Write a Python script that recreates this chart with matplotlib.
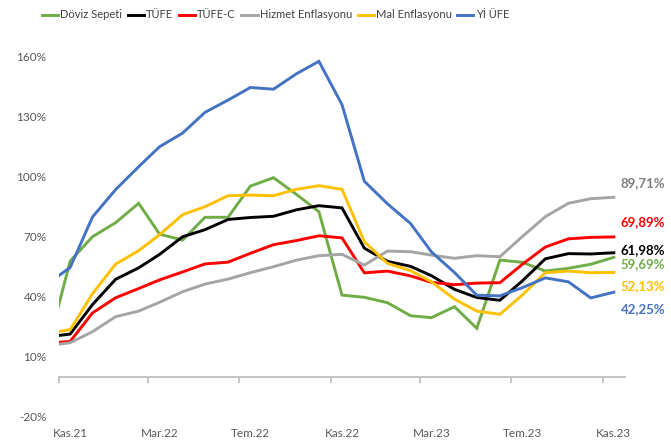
import matplotlib
matplotlib.use("Agg")
import matplotlib.pyplot as plt
import matplotlib.ticker as mticker
import pandas as pd

plt.rcParams['font.family'] = ['Lato', 'DejaVu Sans']

# monthly annual inflation, Oct 2021 - Nov 2023
dates = pd.date_range("2021-10-01", "2023-11-01", freq="MS") + pd.Timedelta(days=15)

doviz = [13.5, 57.8, 70.0, 77.0, 86.7, 71.3, 68.3, 79.7, 79.7, 95.3, 99.5, 91.1, 82.5,
         40.8, 39.7, 37.0, 30.5, 29.5, 35.0, 24.2, 58.3, 57.2, 52.8, 54.2, 56.2, 59.69]
tufe = [19.89, 21.31, 36.08, 48.69, 54.44, 61.14, 69.97, 73.50, 78.62, 79.60, 80.21, 83.45, 85.51,
        84.39, 64.27, 57.68, 55.18, 50.51, 43.68, 39.59, 38.21, 47.83, 58.94, 61.53, 61.36, 61.98]
tufe_c = [16.82, 17.63, 31.88, 39.45, 44.08, 48.39, 52.39, 56.38, 57.27, 61.69, 66.00, 68.09, 70.47,
          69.4, 51.93, 52.8, 50.4, 47.2, 46.0, 46.8, 47.0, 56.15, 64.83, 68.93, 69.66, 69.89]
hizmet = [15.4, 17.0, 22.5, 30.0, 32.8, 37.2, 42.5, 46.3, 48.8, 52.0, 55.0, 58.3, 60.5,
          61.2, 55.8, 62.8, 62.5, 60.8, 59.2, 60.5, 60.0, 70.0, 80.0, 86.7, 89.0, 89.71]
mal = [21.75, 23.5, 41.5, 56.3, 63.0, 71.0, 81.0, 85.0, 90.5, 90.8, 90.5, 93.7, 95.5,
       93.7, 67.5, 56.7, 53.0, 47.5, 38.8, 32.8, 31.2, 40.8, 52.0, 52.8, 52.0, 52.13]
yi_ufe = [46.31, 54.62, 79.89, 93.53, 105.01, 114.97, 121.82, 132.16, 138.31, 144.61, 143.75, 151.50, 157.69,
          136.02, 97.72, 86.46, 76.61, 62.43, 52.11, 40.76, 40.42, 44.50, 49.41, 47.44, 39.39, 42.25]

names = ["Döviz Sepeti", "TÜFE", "TÜFE-C", "Hizmet Enflasyonu", "Mal Enflasyonu", "Yİ ÜFE"]
series = [doviz, tufe, tufe_c, hizmet, mal, yi_ufe]
colors = ["#70AD47", "#000000", "#FF0000", "#A5A5A5", "#FFC000", "#4472C4"]
label_colors = ["#70AD47", "#000000", "#FF0000", "#7F7F7F", "#FFC000", "#4472C4"]
label_dy = [-7, 3, 15, 14, -14, -17]  # pixel offsets of end labels

month_names = ["Oca", "Şub", "Mar", "Nis", "May", "Haz", "Tem", "Ağu", "Eyl", "Eki", "Kas", "Ara"]

fig = plt.figure(figsize=(6.71, 4.41), dpi=100)
ax = fig.add_axes([59 / 671, 24.3 / 441, 566 / 671, 360 / 441])

for name, vals, c in zip(names, series, colors):
    ax.plot(dates, vals, color=c, lw=2.1, label=name, solid_joinstyle='miter')

for vals, c, dy in zip(series, label_colors, label_dy):
    txt = f"{vals[-1]:.2f}%".replace('.', ',')
    ax.annotate(txt, xy=(dates[-1], vals[-1]), xytext=(7, dy), textcoords='offset pixels',
                ha='left', va='center', color=c, fontsize=9.5, fontweight='bold',
                annotation_clip=False)

ax.set_xlim(pd.Timestamp("2021-11-01"), pd.Timestamp("2023-12-01"))
ax.set_ylim(-20, 160)
ax.set_yticks(range(-20, 161, 30))
ax.yaxis.set_major_formatter(mticker.FuncFormatter(lambda v, p: f"{v:.0f}%"))
ax.tick_params(axis='y', length=0, pad=9, labelsize=8.5, labelcolor="#595959")

for s in ["top", "right", "left"]:
    ax.spines[s].set_visible(False)
ax.spines["bottom"].set_position(("data", 0))
ax.spines["bottom"].set_color("#BFBFBF")
ax.spines["bottom"].set_linewidth(1.3)

tick_dates = pd.date_range("2021-11-01", "2023-11-01", freq="4MS")
ax.set_xticks(tick_dates)
ax.set_xticklabels([])
ax.tick_params(axis='x', length=4, width=1.3, color="#BFBFBF", direction='out')

sec = ax.secondary_xaxis('bottom')
sec.spines['bottom'].set_visible(False)
lab_dates = tick_dates + pd.Timedelta(days=15)
sec.set_xticks(lab_dates)
sec.set_xticklabels([f"{month_names[d.month - 1]}.{d.year % 100:02d}" for d in lab_dates])
sec.tick_params(axis='x', length=0, pad=8, labelsize=8.5, labelcolor="#595959")

fig.legend(loc='center left', bbox_to_anchor=(42 / 671, 1 - 15 / 441), ncol=6, frameon=False,
           fontsize=8, labelcolor="#404040", handlelength=1.45, handletextpad=0.2,
           columnspacing=0.5, borderaxespad=0, borderpad=0)

fig.savefig("out.png", dpi=100)
